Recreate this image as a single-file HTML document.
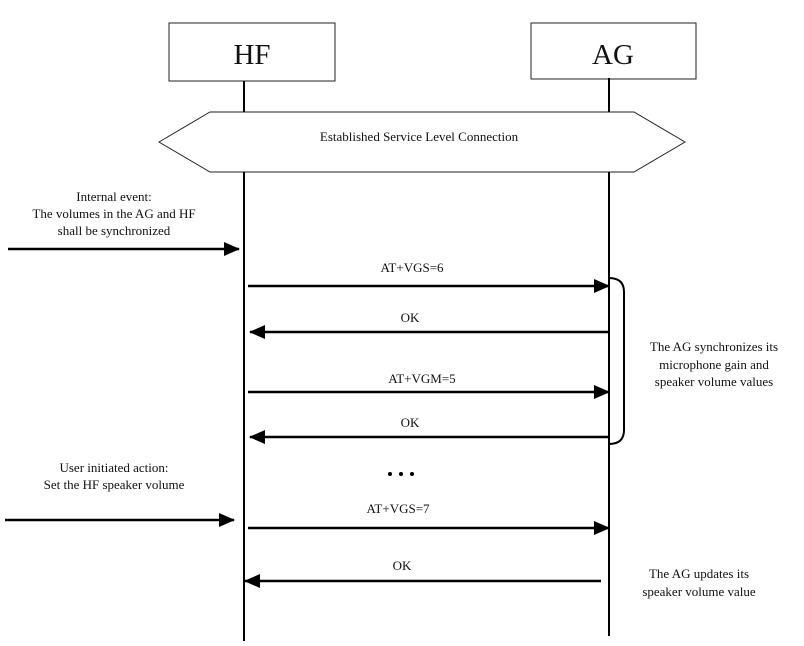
<!DOCTYPE html>
<html><head><meta charset="utf-8"><style>
html,body{margin:0;padding:0;background:#fff}
svg{display:block}
text{font-family:"Liberation Serif",serif;fill:#111}
</style></head><body>
<svg width="804" height="646" viewBox="0 0 804 646" xmlns="http://www.w3.org/2000/svg">
<defs>
<marker id="ah" markerWidth="16" markerHeight="14" refX="15" refY="7" orient="auto" markerUnits="userSpaceOnUse" viewBox="0 0 16 14">
<path d="M0,0 L16,7 L0,14 z" fill="#000"/>
</marker>
</defs>
<g fill="none" stroke="#222" stroke-width="1">
<rect x="169" y="23" width="166" height="58"/>
<rect x="531" y="23" width="165" height="56"/>
<polygon points="159,142 210,112 634,112 685,142 634,172 210,172" fill="#fff"/>
</g>
<g stroke="#000" stroke-width="2">
<line x1="244" y1="81" x2="244" y2="112"/>
<line x1="244" y1="172" x2="244" y2="641"/>
<line x1="609" y1="78" x2="609" y2="112"/>
<line x1="609" y1="172" x2="609" y2="636"/>
</g>
<g stroke="#000" stroke-width="2.5" fill="none">
<line x1="8" y1="249" x2="239" y2="249" marker-end="url(#ah)"/>
<line x1="248" y1="286" x2="609" y2="286" marker-end="url(#ah)"/>
<line x1="609" y1="332" x2="250" y2="332" marker-end="url(#ah)"/>
<line x1="248" y1="392" x2="609" y2="392" marker-end="url(#ah)"/>
<line x1="609" y1="437" x2="250" y2="437" marker-end="url(#ah)"/>
<line x1="5" y1="520" x2="234" y2="520" marker-end="url(#ah)"/>
<line x1="248" y1="528" x2="609" y2="528" marker-end="url(#ah)"/>
<line x1="601" y1="581" x2="245" y2="581" marker-end="url(#ah)"/>
<path d="M609,278 Q624,278 624,292 L624,430 Q624,444 609,444" stroke-width="2"/>
</g>
<text x="252" y="64" font-size="29" text-anchor="middle">HF</text>
<text x="613" y="64" font-size="29" text-anchor="middle">AG</text>
<text x="419" y="141" font-size="13" text-anchor="middle">Established Service Level Connection</text>
<g font-size="13" text-anchor="middle">
<text x="114" y="201">Internal event:</text>
<text x="114" y="218">The volumes in the AG and HF</text>
<text x="114" y="235">shall be synchronized</text>
<text x="412" y="272">AT+VGS=6</text>
<text x="410" y="322">OK</text>
<text x="422" y="383">AT+VGM=5</text>
<text x="410" y="427">OK</text>
<text x="714" y="351">The AG synchronizes its</text>
<text x="714" y="369">microphone gain and</text>
<text x="714" y="386">speaker volume values</text>
<text x="114" y="472">User initiated action:</text>
<text x="114" y="489">Set the HF speaker volume</text>
<text x="398" y="513">AT+VGS=7</text>
<text x="402" y="570">OK</text>
<text x="699" y="578">The AG updates its</text>
<text x="699" y="596">speaker volume value</text>
</g>
<g fill="#000"><circle cx="390" cy="474" r="2"/><circle cx="401" cy="474" r="2"/><circle cx="412" cy="474" r="2"/></g>
</svg>
</body></html>
